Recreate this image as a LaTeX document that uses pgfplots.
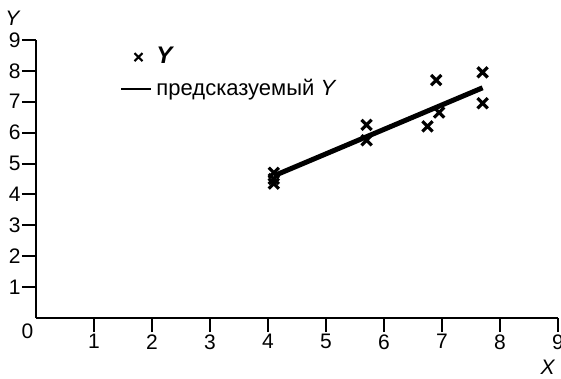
\documentclass[border=0pt]{standalone}
\usepackage{fontspec}
\setmainfont{Liberation Sans}
\usepackage{pgfplots}
\pgfplotsset{compat=1.18}
\begin{document}
\begin{tikzpicture}
\useasboundingbox (-18pt,-30.5pt) rectangle (262.5pt,159pt);
\begin{axis}[
  anchor=origin, at={(0,0)},
  x=29pt, y=15.45pt,
  xmin=0, xmax=9, ymin=0, ymax=9,
  axis lines=left,
  axis line style={-, line width=1pt},
  xtick={1,...,9}, ytick={1,...,9},
  tick align=outside, major tick length=7pt,
  tick style={line width=1pt, black},
  /pgf/number format/assume math mode=true,
  ticklabel style={font=\fontsize{10.5}{12}\selectfont},
  xticklabel style={inner sep=1pt},
  yticklabel style={inner sep=0.5pt},
  clip=false,
  xlabel={\textit{X}}, ylabel={\textit{Y}},
  every axis x label/.style={at={(axis description cs:1,0)}, anchor=center, xshift=-5pt, yshift=-24.5pt, font=\fontsize{10.5}{12}\selectfont},
  every axis y label/.style={at={(axis description cs:0,1)}, anchor=center, xshift=-11.5pt, yshift=10.75pt, font=\fontsize{10.5}{12}\selectfont},
  legend style={draw=none, fill=none, at={(axis cs:1.45,8.9)}, anchor=north west,
    font=\fontsize{11}{13}\selectfont, row sep=2pt, inner sep=0pt,
    /tikz/every even column/.append style={column sep=5pt}},
  legend cell align=left,
]
\addplot[only marks, mark=x, mark size=3.6pt, line width=1.6pt,
  legend image code/.code={\draw[mark=x, mark size=2.8pt, line width=1pt] plot coordinates {(8.5pt,0pt)};}]
  coordinates {(4.1,4.7) (4.1,4.5) (4.1,4.35) (5.7,6.25) (5.7,5.75) (6.75,6.2) (6.9,7.7) (6.95,6.65) (7.7,7.95) (7.7,6.95)};
\addlegendentry{{\fontsize{12}{13}\selectfont\bfseries\itshape Y}}
\addplot[line width=2.5pt,
  legend image code/.code={\draw[line width=1pt] (0pt,0pt) -- (15pt,0pt);}]
  coordinates {(4.1,4.6) (7.7,7.45)};
\addlegendentry{предсказуемый \textit{Y}}
\node[font=\fontsize{10.5}{12}\selectfont, xshift=-4.25pt, yshift=-6.5pt] at (axis cs:0,0) {0};
\end{axis}
\end{tikzpicture}
\end{document}
